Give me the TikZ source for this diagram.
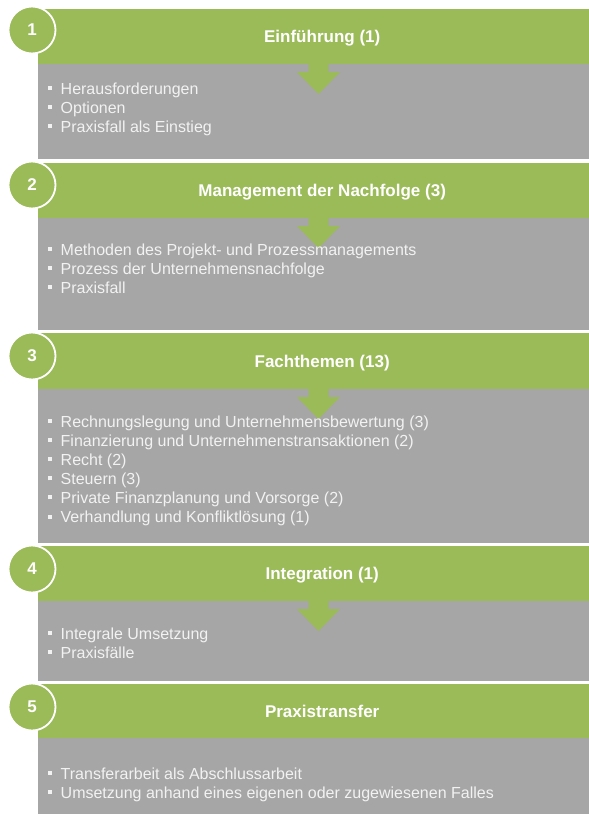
\documentclass[tikz,border=0pt]{standalone}
\usepackage{fontspec}
\setmainfont{Liberation Sans}
\usepackage{xcolor}
\definecolor{BandGreen}{HTML}{9BBB59}
\definecolor{BodyGrey}{HTML}{A6A6A6}
\definecolor{ItemInk}{HTML}{F2F2F2}
\usepackage{tikz}
\usetikzlibrary{positioning, calc}
\newcommand{\itm}{\makebox[12.8pt][l]{\raisebox{4.3pt}{\rule{4pt}{4pt}}}}
\newcommand{\flowarrow}[1]{\fill[BandGreen] (#1) ++(-10,-1) -- ++(0,10) -- ++(-11.5,0) -- ++(21.5,22) -- ++(21.5,-22) -- ++(-11.5,0) -- ++(0,-10) -- cycle;}

\begin{document}
\begin{tikzpicture}[
    x=1pt, y=-1pt,
    band/.style={fill=BandGreen, anchor=north west, minimum width=569pt, inner sep=0pt, text=white, font=\fontsize{17}{20}\bfseries, text height=15pt, text depth=3pt},
    body/.style={fill=BodyGrey, anchor=north west, minimum width=569pt, inner sep=0pt},
    items/.style={anchor=base west, align=left, inner sep=0pt, text=ItemInk, font=\fontsize{16}{19.1}\selectfont},
    stepnum/.style={circle, fill=BandGreen, draw=white, line width=1.8pt, minimum size=47pt, inner sep=0pt, text=white, font=\fontsize{17}{20}\bfseries}
]
\useasboundingbox (0,0) rectangle (589,814);
% grey bodies
\node[body, minimum height=96pt] (body1) at (37.5,63) {};
\node[body, minimum height=113pt] (body2) at (37.5,217) {};
\node[body, minimum height=155pt] (body3) at (37.5,388) {};
\node[body, minimum height=81pt] (body4) at (37.5,600) {};
\node[body, minimum height=90pt] (body5) at (37.5,737) {};
% green title bands
\node[band, minimum height=55pt] (band1) at (37.5,9) {Einführung (1)};
\node[band, minimum height=55pt] (band2) at (37.5,163) {Management der Nachfolge (3)};
\node[band, minimum height=56pt] (band3) at (37.5,333) {Fachthemen (13)};
\node[band, minimum height=55pt] (band4) at (37.5,546) {Integration (1)};
\node[band, minimum height=54pt] (band5) at (37.5,684) {Praxistransfer};
% down arrows
\coordinate (a1) at (318.5,63);
\coordinate (a2) at (318.5,217);
\coordinate (a3) at (318.5,388);
\coordinate (a4) at (318.5,600);
\flowarrow{a1}
\flowarrow{a2}
\flowarrow{a3}
\flowarrow{a4}
% step numbers
\node[stepnum] (c1) at (32,30) {1};
\node[stepnum] (c2) at (32,185) {2};
\node[stepnum] (c3) at (32,356) {3};
\node[stepnum] (c4) at (32,569) {4};
\node[stepnum] (c5) at (32,707) {5};
% contents (placed at the baseline of the last line)
\node[items] (items1) at (47.7,132.5) {\itm Herausforderungen\\\itm Optionen\\\itm Praxisfall als Einstieg};
\node[items] (items2) at (47.7,293.2) {\itm Methoden des Projekt- und Prozessmanagements\\\itm Prozess der Unternehmensnachfolge\\\itm Praxisfall};
\node[items] (items3) at (47.7,522.8) {\itm Rechnungslegung und Unternehmensbewertung (3)\\\itm Finanzierung und Unternehmenstransaktionen (2)\\\itm Recht (2)\\\itm Steuern (3)\\\itm Private Finanzplanung und Vorsorge (2)\\\itm Verhandlung und Konfliktlösung (1)};
\node[items] (items4) at (47.7,658.1) {\itm Integrale Umsetzung\\\itm Praxisfälle};
\node[items] (items5) at (47.7,798.1) {\itm Transferarbeit als Abschlussarbeit\\\itm Umsetzung anhand eines eigenen oder zugewiesenen Falles};
\end{tikzpicture}
\end{document}
